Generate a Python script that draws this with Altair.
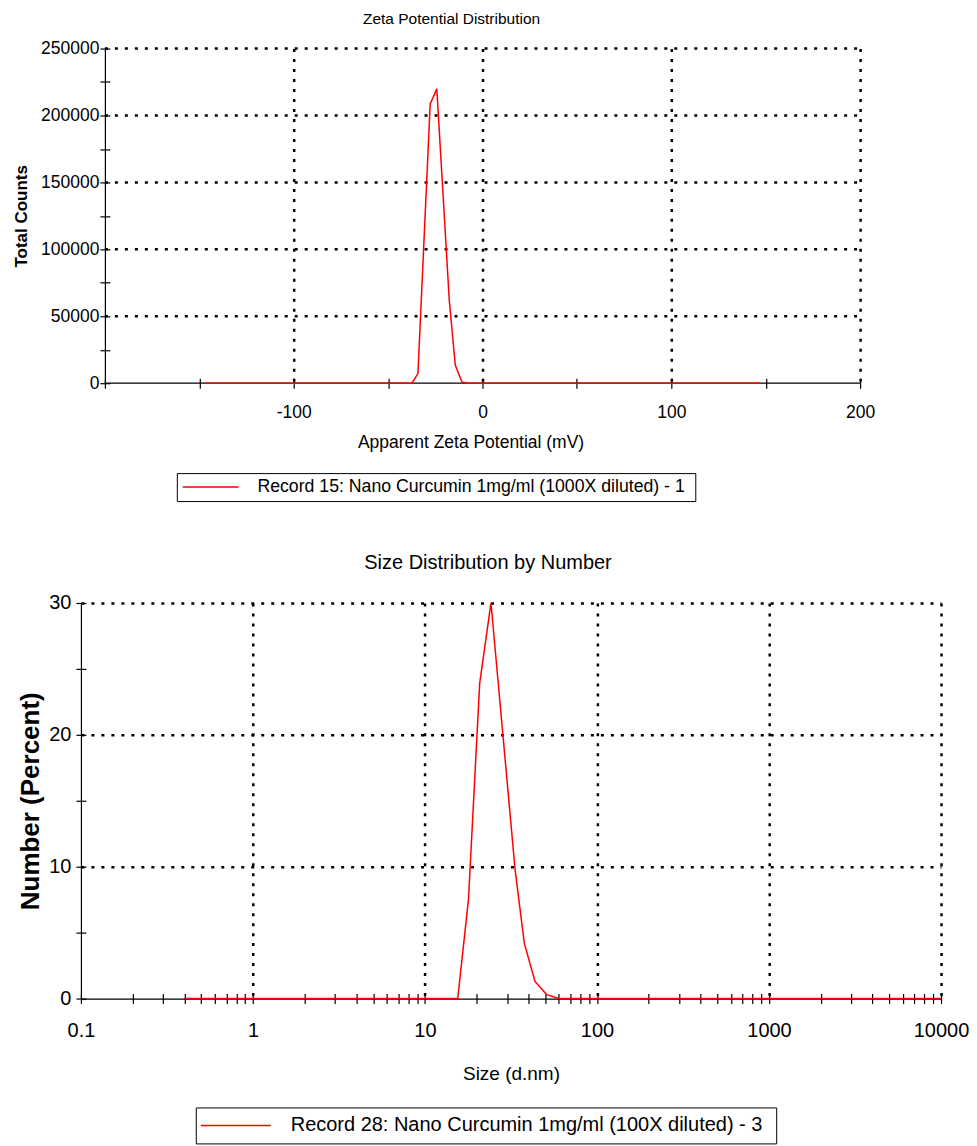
import altair as alt
import pandas as pd

# ---------------- data ----------------
zeta_mv = [-147, -37.4, -34.2, -27.7, -24.2, -17.6, -14.4, -10.9, -7.7, 147]
zeta_counts = [0, 0, 7200, 208700, 219900, 61900, 13400, 970, 0, 0]
zeta_record = "Record 15: Nano Curcumin 1mg/ml (1000X diluted) -  1"

size_dnm = [0.4, 15.5, 17.9, 20.8, 24.2, 33.4, 37.8, 43.6, 51.0, 59.7, 10000]
size_pct = [0, 0, 7.5, 23.9, 30.0, 9.8, 4.2, 1.3, 0.3, 0, 0]
size_record = "Record 28: Nano Curcumin 1mg/ml (100X diluted) -  3"

# axis tick / grid values
zeta_x_ticks = [-200, -150, -100, -50, 0, 50, 100, 150, 200]
zeta_x_grid = [-100, 0, 100, 200]
zeta_y_ticks = [0, 25000, 50000, 75000, 100000, 125000, 150000, 175000, 200000, 225000, 250000]
zeta_y_grid = [50000, 100000, 150000, 200000, 250000]

size_decades = [0.1, 1, 10, 100, 1000, 10000]
size_x_ticks = size_decades + [round(m * d, 6) for d in size_decades[:-1] for m in range(2, 10)]
size_x_grid = [1, 10, 100, 1000, 10000]
size_y_ticks = [0, 5, 10, 15, 20, 25, 30]
size_y_grid = [10, 20, 30]

FONT = "Liberation Sans, Arial, sans-serif"

# ---------------- layout ----------------
TOP_W, TOP_H = 756, 335          # zeta plot area (between its axes)
TOP_SHIFT = 24                   # zeta y axis sits this far right of the size y axis
BOT_W, BOT_H = 861, 396

DOT = dict(grid=True, gridColor="black", gridDash=[3, 7], gridWidth=2.5,
           domain=False, ticks=False, labels=False, title=None)


def inner(orient, values, offset):
    return alt.Axis(orient=orient, values=values, grid=False, domain=False, ticks=True,
                    tickSize=5, tickColor="black", tickWidth=1.2, labels=False, title=None,
                    offset=offset)


def outer(orient, values, expr, size, pad, title, tsize, tpad, bold, offset=0, domain=True):
    return alt.Axis(orient=orient, values=values, grid=False, domain=domain,
                    domainColor="black", domainWidth=1.2, ticks=True, tickSize=5,
                    tickColor="black", tickWidth=1.2,
                    labelExpr=expr, labelFont=FONT, labelFontSize=size, labelColor="black",
                    labelPadding=pad, labelFlush=False, labelOverlap=False, offset=offset,
                    title=title, titleFont=FONT, titleFontSize=tsize,
                    titleFontWeight="bold" if bold else "normal", titleColor="black",
                    titlePadding=tpad)


# ---------------- zeta potential panel ----------------
zeta_df = pd.DataFrame({"x": zeta_mv, "y": zeta_counts, "series": zeta_record})
x_left = zeta_x_ticks[0] - TOP_SHIFT * (zeta_x_ticks[-1] - zeta_x_ticks[0]) / TOP_W
zx = alt.Scale(domain=[x_left, zeta_x_ticks[-1]], nice=False, zero=False)
zy = alt.Scale(domain=[zeta_y_ticks[0], zeta_y_ticks[-1]], nice=False)

zgrid_df = pd.DataFrame({"v": zeta_y_grid, "x0": zeta_x_ticks[0], "x1": zeta_x_ticks[-1]})
zdom_df = pd.DataFrame({"v": [zeta_y_ticks[0]], "x0": zeta_x_ticks[0], "x1": zeta_x_ticks[-1]})

z_hgrid = alt.Chart(zgrid_df).mark_rule(color="black", strokeDash=[3, 7], strokeWidth=2.5).encode(
    x=alt.X("x0:Q", scale=zx, axis=None), x2="x1:Q",
    y=alt.Y("v:Q", scale=zy, axis=None))
z_vgrid = alt.Chart(zeta_df).mark_line(opacity=0).encode(
    x=alt.X("x:Q", scale=zx, axis=alt.Axis(orient="bottom", values=zeta_x_grid, **DOT)),
    y=alt.Y("y:Q", scale=zy, axis=None))
z_inner = alt.Chart(zeta_df).mark_line(opacity=0).encode(
    x=alt.X("x:Q", scale=zx, axis=inner("bottom", zeta_x_ticks, -5)),
    y=alt.Y("y:Q", scale=zy, axis=inner("left", zeta_y_ticks, -TOP_SHIFT - 5)))
z_dom = alt.Chart(zdom_df).mark_rule(color="black", strokeWidth=1.2).encode(
    x=alt.X("x0:Q", scale=zx, axis=None), x2="x1:Q",
    y=alt.Y("v:Q", scale=zy, axis=None))
z_main = alt.Chart(zeta_df).mark_line(strokeWidth=1.5).encode(
    x=alt.X("x:Q", scale=zx, axis=outer(
        "bottom", zeta_x_ticks,
        "datum.value % 100 === 0 && datum.value > -200 ? '' + datum.value : ''",
        17.5, 15, "Apparent Zeta Potential (mV)", 17.5, 13, False, domain=False)),
    y=alt.Y("y:Q", scale=zy, axis=outer(
        "left", zeta_y_ticks, "datum.value % 50000 === 0 ? '' + datum.value : ''",
        17.5, 1, "Total Counts", 17, 10, True, offset=-TOP_SHIFT)),
    color=alt.Color("series:N", scale=alt.Scale(range=["#ff0000"]), legend=alt.Legend(
        orient="none", legendX=96, legendY=425, title=None, strokeColor="black",
        padding=5, symbolType="M-4,0H24", symbolSize=16, symbolStrokeWidth=1.5,
        labelFont=FONT, labelFontSize=17.7, labelColor="black", labelOffset=58,
        labelLimit=1000)),
)
top = alt.layer(z_hgrid, z_vgrid, z_inner, z_dom, z_main).resolve_axis(
    x="independent", y="independent"
).properties(
    width=TOP_W + TOP_SHIFT, height=TOP_H,
    title=alt.TitleParams(text="Zeta Potential Distribution", font=FONT, fontSize=15.5,
                          fontWeight="normal", color="black", offset=12, anchor="middle",
                          dx=-19),
)

# ---------------- size distribution panel ----------------
size_df = pd.DataFrame({"x": size_dnm, "y": size_pct, "series": size_record})
sx = alt.Scale(type="log", domain=[size_decades[0], size_decades[-1]], nice=False)
sy = alt.Scale(domain=[size_y_ticks[0], size_y_ticks[-1]], nice=False)

s_grid = alt.Chart(size_df).mark_line(opacity=0).encode(
    x=alt.X("x:Q", scale=sx, axis=alt.Axis(orient="bottom", values=size_x_grid, **DOT)),
    y=alt.Y("y:Q", scale=sy, axis=alt.Axis(orient="left", values=size_y_grid, **DOT)))
s_inner = alt.Chart(size_df).mark_line(opacity=0).encode(
    x=alt.X("x:Q", scale=sx, axis=inner("bottom", size_x_ticks, -5)),
    y=alt.Y("y:Q", scale=sy, axis=inner("left", size_y_ticks, -5)))
s_main = alt.Chart(size_df).mark_line(strokeWidth=1.5).encode(
    x=alt.X("x:Q", scale=sx, axis=outer(
        "bottom", size_x_ticks,
        "abs(log(datum.value) / LN10 - round(log(datum.value) / LN10)) < 0.000001 ? '' + datum.value : ''",
        20, 17, "Size (d.nm)", 19, 24, False)),
    y=alt.Y("y:Q", scale=sy, axis=outer(
        "left", size_y_ticks, "datum.value % 10 === 0 ? '' + datum.value : ''",
        20, 5, "Number (Percent)", 26, 5, True)),
    color=alt.Color("series:N", scale=alt.Scale(range=["#ff0000"]), legend=alt.Legend(
        orient="none", legendX=115, legendY=505, title=None, strokeColor="black",
        padding=8, symbolType="M-6.5,0H28.5", symbolSize=16, symbolStrokeWidth=1.5,
        labelFont=FONT, labelFontSize=20, labelColor="black", labelOffset=67,
        labelLimit=1000)),
)
bottom = alt.layer(s_grid, s_inner, s_main).resolve_axis(
    x="independent", y="independent"
).properties(
    width=BOT_W, height=BOT_H,
    title=alt.TitleParams(text="Size Distribution by Number", font=FONT, fontSize=20,
                          fontWeight="normal", color="black", offset=20, anchor="middle",
                          dx=-23),
)

chart = alt.vconcat(top, bottom, spacing=51).resolve_scale(
    color="independent"
).resolve_legend(color="independent").properties(
    padding={"left": 4, "top": 3, "right": 0, "bottom": 0}
).configure_view(strokeWidth=0)

chart.save("out.html", embed_options={"renderer": "svg", "actions": False})
